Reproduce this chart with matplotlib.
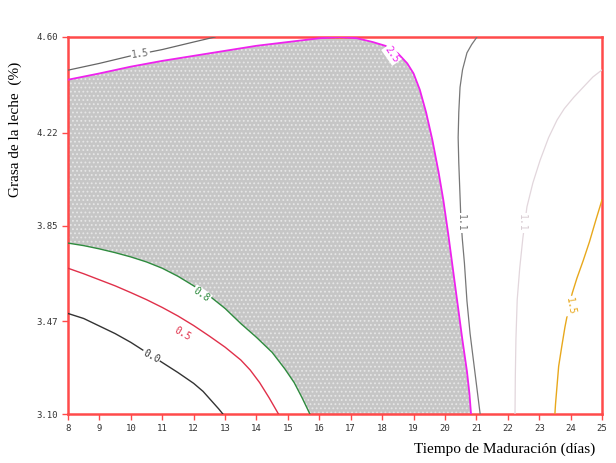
import matplotlib.pyplot as plt

# contour lines (x = days, y = fat %)
c00_x = [8, 8.5, 9, 9.5, 10, 10.5, 11, 11.5, 12, 12.3, 12.6, 12.8, 12.93]
c00_y = [3.50, 3.48, 3.45, 3.42, 3.385, 3.345, 3.305, 3.265, 3.222, 3.19, 3.148, 3.12, 3.10]
c05_x = [8, 8.5, 9, 9.5, 10, 10.5, 11, 11.5, 12, 12.5, 13, 13.5, 13.8, 14.1, 14.4, 14.7]
c05_y = [3.68, 3.658, 3.634, 3.61, 3.583, 3.555, 3.524, 3.49, 3.452, 3.41, 3.366, 3.315, 3.275, 3.225, 3.165, 3.10]
c08_x = [8, 8.5, 9, 9.5, 10, 10.5, 11, 11.5, 12, 12.5, 13, 13.5, 14, 14.5, 14.9, 15.2, 15.45, 15.7]
c08_y = [3.78, 3.77, 3.757, 3.742, 3.725, 3.705, 3.68, 3.648, 3.61, 3.57, 3.52, 3.46, 3.405, 3.345, 3.28, 3.225, 3.165, 3.10]
mag_x = [8, 9, 10, 11, 12, 13, 14, 15, 16, 16.66, 17.2, 17.7, 18.1, 18.5, 18.8, 19.0, 19.2, 19.4,
         19.6, 19.8, 19.95, 20.1, 20.25, 20.4, 20.55, 20.7, 20.78, 20.83]
mag_y = [4.43, 4.455, 4.482, 4.505, 4.525, 4.545, 4.565, 4.58, 4.595, 4.60, 4.595, 4.58, 4.565, 4.535,
         4.495, 4.455, 4.39, 4.30, 4.19, 4.06, 3.95, 3.82, 3.68, 3.54, 3.40, 3.27, 3.18, 3.10]
top_x = [8, 9, 10, 11, 12, 12.68]
top_y = [4.468, 4.495, 4.525, 4.55, 4.58, 4.60]
dg_x = [21.02, 20.85, 20.70, 20.56, 20.48, 20.44, 20.42, 20.44, 20.47, 20.50, 20.55, 20.62, 20.70, 20.80, 20.92, 21.02, 21.12]
dg_y = [4.60, 4.57, 4.537, 4.47, 4.40, 4.30, 4.20, 4.10, 4.00, 3.90, 3.80, 3.70, 3.55, 3.42, 3.30, 3.20, 3.10]
lg_x = [25.0, 24.71, 24.4, 24.1, 23.8, 23.57, 23.3, 23.03, 22.8, 22.61, 22.48, 22.38, 22.3, 22.26, 22.24, 22.23]
lg_y = [4.469, 4.441, 4.40, 4.36, 4.315, 4.27, 4.20, 4.11, 4.02, 3.924, 3.80, 3.68, 3.554, 3.40, 3.25, 3.10]
or_x = [25.0, 24.8, 24.6, 24.4, 24.2, 24.05, 23.92, 23.82, 23.72, 23.62, 23.56, 23.52, 23.50]
or_y = [3.952, 3.87, 3.785, 3.71, 3.64, 3.58, 3.51, 3.446, 3.37, 3.29, 3.20, 3.14, 3.10]

xticks = list(range(8, 26))
yticks = [3.10, 3.47, 3.85, 4.22, 4.60]
ylabels = ['3.10', '3.47', '3.85', '4.22', '4.60']

plt.rcParams['hatch.linewidth'] = 0.8
fig = plt.figure(figsize=(6.16, 4.63), dpi=100)
ax = fig.add_axes([0.1104, 0.1058, 0.8669, 0.8143])

# shaded (optimum) region between green and magenta curves
poly_x = [8] + mag_x + c08_x[::-1]
poly_y = [c08_y[0]] + mag_y + c08_y[::-1]
ax.fill(poly_x, poly_y, facecolor='#c6c6c6', edgecolor='#e6e6e6', hatch='....', linewidth=0, zorder=1)

ax.plot(c00_x, c00_y, color='#333333', lw=1.0, zorder=3)
ax.plot(c05_x, c05_y, color='#e0304a', lw=1.0, zorder=3)
ax.plot(c08_x, c08_y, color='#2e8b3e', lw=1.0, zorder=3)
ax.plot(mag_x, mag_y, color='#ee22ee', lw=1.3, zorder=3)
ax.plot(top_x, top_y, color='#666666', lw=0.9, zorder=3)
ax.plot(dg_x, dg_y, color='#777777', lw=0.9, zorder=3)
ax.plot(lg_x, lg_y, color='#e2d6dc', lw=0.9, zorder=3)
ax.plot(or_x, or_y, color='#e8a81c', lw=1.0, zorder=3)

lab = dict(fontsize=7, family='DejaVu Sans Mono', ha='center', va='center', zorder=4,
           bbox=dict(facecolor='white', edgecolor='none', pad=0.6))
ax.text(10.65, 3.33, '0.0', color='#333333', rotation=-28, **lab)
ax.text(11.65, 3.42, '0.5', color='#e0304a', rotation=-30, **lab)
ax.text(12.25, 3.575, '0.8', color='#2e8b3e', rotation=-35, **lab)
ax.text(10.3, 4.535, '1.5', color='#666666', rotation=8, **lab)
ax.text(18.3, 4.53, '2.5', color='#ee22ee', rotation=-55, **lab)
ax.text(20.52, 3.86, '1.1', color='#777777', rotation=-90, **lab)
ax.text(22.45, 3.86, '1.1', color='#d8ccd2', rotation=-90, **lab)
ax.text(23.98, 3.53, '1.5', color='#e8a81c', rotation=-80, **lab)

ax.set_xlim(8, 25)
ax.set_ylim(3.10, 4.60)
ax.set_xticks(xticks)
ax.set_xticklabels([str(t) for t in xticks])
ax.set_yticks(yticks)
ax.set_yticklabels(ylabels)
for s in ax.spines.values():
    s.set_color('#ff4a4a')
    s.set_linewidth(1.8)
ax.tick_params(colors='#ff4a4a', labelcolor='#333333', labelsize=6.5, length=4, width=1, direction='out')
for t in ax.get_xticklabels() + ax.get_yticklabels():
    t.set_family('DejaVu Sans Mono')

fig.text(0.024, 0.72, 'Grasa de la leche  (%)', rotation=90, ha='center', va='center',
         family='Liberation Serif', fontsize=11)
fig.text(0.82, 0.015, 'Tiempo de Maduración (días)', ha='center', va='bottom',
         family='Liberation Serif', fontsize=11)

fig.savefig('out.png', dpi=100)
